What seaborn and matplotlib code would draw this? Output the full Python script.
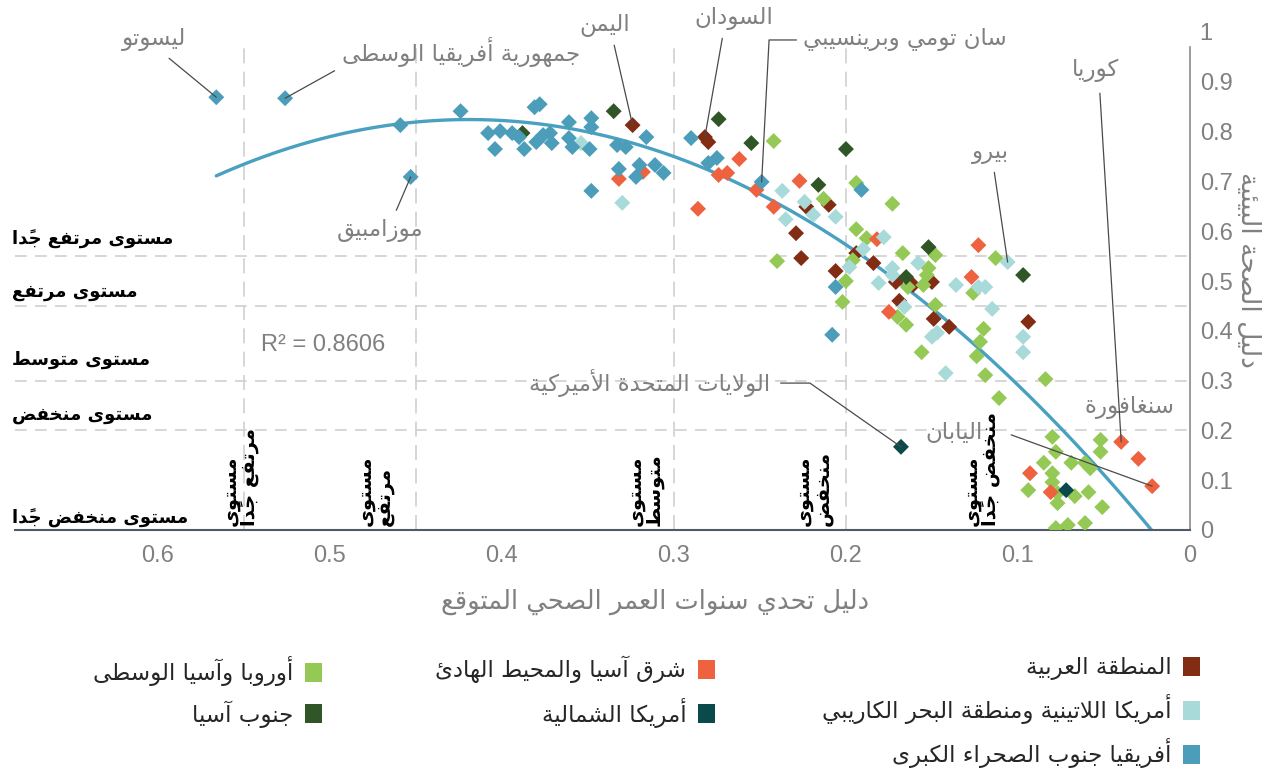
import numpy as np
import pandas as pd
import matplotlib
matplotlib.use("Agg")
import matplotlib.pyplot as plt
from matplotlib.patches import Patch
import seaborn as sns

# values
# x = healthy life expectancy challenge index, y = environmental health index
arab_x = [0.324, 0.282, 0.280, 0.223, 0.210, 0.229, 0.226, 0.194, 0.184, 0.206, 0.171, 0.161, 0.150, 0.169, 0.149, 0.140, 0.094]
arab_y = [0.813, 0.789, 0.779, 0.649, 0.653, 0.596, 0.546, 0.556, 0.536, 0.520, 0.498, 0.492, 0.498, 0.460, 0.424, 0.408, 0.418]

eca_x = [0.242, 0.213, 0.194, 0.173, 0.194, 0.188, 0.167, 0.240, 0.196, 0.200, 0.202, 0.148, 0.152, 0.153, 0.164, 0.155,
         0.113, 0.170, 0.165, 0.148, 0.156, 0.126, 0.120, 0.122, 0.124, 0.119, 0.084, 0.111, 0.080, 0.052, 0.052, 0.078,
         0.085, 0.069, 0.061, 0.058, 0.080, 0.080, 0.094, 0.077, 0.067, 0.059, 0.077, 0.051, 0.078, 0.071, 0.061]
eca_y = [0.781, 0.665, 0.697, 0.655, 0.604, 0.586, 0.556, 0.540, 0.542, 0.500, 0.458, 0.552, 0.526, 0.512, 0.488, 0.492,
         0.546, 0.428, 0.412, 0.452, 0.357, 0.476, 0.404, 0.378, 0.349, 0.311, 0.303, 0.265, 0.187, 0.181, 0.157, 0.157,
         0.135, 0.135, 0.135, 0.124, 0.114, 0.096, 0.080, 0.074, 0.068, 0.076, 0.054, 0.046, 0.004, 0.010, 0.014]

eap_x = [0.332, 0.318, 0.274, 0.269, 0.262, 0.252, 0.286, 0.242, 0.227, 0.182, 0.175, 0.123, 0.127, 0.093, 0.081, 0.040, 0.030, 0.022]
eap_y = [0.705, 0.719, 0.713, 0.717, 0.745, 0.683, 0.645, 0.649, 0.701, 0.584, 0.438, 0.572, 0.508, 0.114, 0.076, 0.177, 0.143, 0.088]

lac_x = [0.354, 0.330, 0.237, 0.224, 0.219, 0.235, 0.206, 0.178, 0.190, 0.198, 0.181, 0.173, 0.173, 0.158, 0.136, 0.123,
         0.119, 0.106, 0.166, 0.150, 0.147, 0.115, 0.097, 0.097, 0.142]
lac_y = [0.777, 0.657, 0.681, 0.659, 0.633, 0.624, 0.629, 0.588, 0.564, 0.528, 0.496, 0.526, 0.512, 0.536, 0.492, 0.488,
         0.488, 0.538, 0.448, 0.388, 0.396, 0.444, 0.388, 0.357, 0.315]

sas_x = [0.335, 0.388, 0.274, 0.255, 0.216, 0.200, 0.165, 0.152, 0.097]
sas_y = [0.841, 0.797, 0.825, 0.777, 0.693, 0.765, 0.508, 0.568, 0.512]

nam_x = [0.168, 0.072]
nam_y = [0.167, 0.080]

ssa_x = [0.566, 0.526, 0.453, 0.459, 0.424, 0.381, 0.378, 0.361, 0.348, 0.348, 0.408, 0.401, 0.394, 0.390, 0.404, 0.387,
         0.380, 0.376, 0.372, 0.371, 0.361, 0.359, 0.349, 0.333, 0.328, 0.332, 0.320, 0.322, 0.311, 0.306, 0.348, 0.316,
         0.290, 0.280, 0.275, 0.249, 0.191, 0.206, 0.208]
ssa_y = [0.869, 0.867, 0.709, 0.813, 0.841, 0.849, 0.855, 0.819, 0.827, 0.809, 0.797, 0.801, 0.797, 0.789, 0.765, 0.765,
         0.779, 0.793, 0.797, 0.777, 0.787, 0.769, 0.765, 0.773, 0.769, 0.725, 0.733, 0.709, 0.733, 0.717, 0.681, 0.789,
         0.787, 0.737, 0.747, 0.699, 0.683, 0.488, 0.392]

region_names = {
    "arab": "المنطقة العربية",
    "eca": "أوروبا وآسيا الوسطى",
    "eap": "شرق آسيا والمحيط الهادئ",
    "lac": "أمريكا اللاتينية ومنطقة البحر الكاريبي",
    "sas": "جنوب آسيا",
    "nam": "أمريكا الشمالية",
    "ssa": "أفريقيا جنوب الصحراء الكبرى",
}
region_colors = {
    "arab": "#832c14",
    "eca": "#94c955",
    "eap": "#ee623f",
    "lac": "#a7dad8",
    "sas": "#305627",
    "nam": "#0b4a4c",
    "ssa": "#4b9dba",
}

level_names = ["مستوى مرتفع جدًا", "مستوى مرتفع", "مستوى متوسط", "مستوى منخفض", "مستوى منخفض جدًا"]
level_cuts = [0.55, 0.45, 0.3, 0.2]

x_ticks = [0.6, 0.5, 0.4, 0.3, 0.2, 0.1, 0]
x_ticklabels = ["0.6", "0.5", "0.4", "0.3", "0.2", "0.1", "0"]
y_ticks = [0, 0.1, 0.2, 0.3, 0.4, 0.5, 0.6, 0.7, 0.8, 0.9, 1]
y_ticklabels = ["0", "0.1", "0.2", "0.3", "0.4", "0.5", "0.6", "0.7", "0.8", "0.9", "1"]

# ---- tiny arabic shaper (matplotlib has no bidi / joining) ----
AR_FORMS = {
    "\u0621": (0xFE80, 1), "\u0622": (0xFE81, 2), "\u0623": (0xFE83, 2), "\u0624": (0xFE85, 2),
    "\u0625": (0xFE87, 2), "\u0626": (0xFE89, 4), "\u0627": (0xFE8D, 2), "\u0628": (0xFE8F, 4),
    "\u0629": (0xFE93, 2), "\u062A": (0xFE95, 4), "\u062B": (0xFE99, 4), "\u062C": (0xFE9D, 4),
    "\u062D": (0xFEA1, 4), "\u062E": (0xFEA5, 4), "\u062F": (0xFEA9, 2), "\u0630": (0xFEAB, 2),
    "\u0631": (0xFEAD, 2), "\u0632": (0xFEAF, 2), "\u0633": (0xFEB1, 4), "\u0634": (0xFEB5, 4),
    "\u0635": (0xFEB9, 4), "\u0636": (0xFEBD, 4), "\u0637": (0xFEC1, 4), "\u0638": (0xFEC5, 4),
    "\u0639": (0xFEC9, 4), "\u063A": (0xFECD, 4), "\u0641": (0xFED1, 4), "\u0642": (0xFED5, 4),
    "\u0643": (0xFED9, 4), "\u0644": (0xFEDD, 4), "\u0645": (0xFEE1, 4), "\u0646": (0xFEE5, 4),
    "\u0647": (0xFEE9, 4), "\u0648": (0xFEED, 2), "\u0649": (0xFEEF, 2), "\u064A": (0xFEF1, 4),
}
LAM_ALEF = {"\u0622": 0xFEF5, "\u0623": 0xFEF7, "\u0625": 0xFEF9, "\u0627": 0xFEFB}


def is_mark(c):
    return "\u064B" <= c <= "\u0652" or c == "\u0670"


def ar_line(line):
    chars = list(line)
    n = len(chars)
    clusters = []
    prev = None  # previous base letter
    i = 0
    while i < n:
        c = chars[i]
        if is_mark(c):
            if clusters:
                clusters[-1] += c
            i += 1
            continue
        if c not in AR_FORMS:
            clusters.append(c)
            prev = None
            i += 1
            continue
        j = i + 1
        while j < n and is_mark(chars[j]):
            j += 1
        nxt = chars[j] if j < n else None
        join_prev = prev is not None and AR_FORMS[prev][1] == 4 and AR_FORMS[c][1] > 1
        if c == "\u0644" and nxt in LAM_ALEF:
            clusters.append(chr(LAM_ALEF[nxt] + (1 if join_prev else 0)))
            prev = nxt
            i = j + 1
            continue
        join_next = AR_FORMS[c][1] == 4 and nxt in AR_FORMS and AR_FORMS[nxt][1] > 1
        base = AR_FORMS[c][0]
        if join_prev and join_next:
            g = base + 3
        elif join_prev:
            g = base + 1
        elif join_next:
            g = base + 2
        else:
            g = base
        clusters.append(chr(g))
        prev = c
        i += 1
    return "".join(reversed(clusters))


def ar(text):
    return "\n".join(ar_line(l) for l in text.split("\n"))


# ---- build frame (row order = drawing order) ----
draw_order = ["arab", "eca", "eap", "lac", "sas", "nam", "ssa"]
xs = {"arab": arab_x, "eca": eca_x, "eap": eap_x, "lac": lac_x, "sas": sas_x, "nam": nam_x, "ssa": ssa_x}
ys = {"arab": arab_y, "eca": eca_y, "eap": eap_y, "lac": lac_y, "sas": sas_y, "nam": nam_y, "ssa": ssa_y}
df = pd.concat([pd.DataFrame({"x": xs[k], "y": ys[k], "region": k}) for k in draw_order], ignore_index=True)

sns.set_style("white")
plt.rcParams["font.family"] = ["DejaVu Sans"]
NUMFONT = ["Liberation Sans", "DejaVu Sans"]
GRAY = "#808080"

fig = plt.figure(figsize=(12.8, 7.73), dpi=100)
ax = fig.add_axes([15 / 1280, 1 - 530 / 773, (1190 - 15) / 1280, (530 - 32) / 773])

for v in level_cuts:
    ax.axhline(v, color="#d0d0d0", lw=1.2, dashes=(7, 5), zorder=1)
    ax.axvline(v, ymax=0.97, color="#d0d0d0", lw=1.2, dashes=(9, 5), zorder=1)

sns.regplot(data=df, x="x", y="y", order=2, scatter=False, ci=None, truncate=True,
            color="#4aa0c0", line_kws=dict(lw=2.4, zorder=2), ax=ax)
sns.scatterplot(data=df, x="x", y="y", hue="region", palette=region_colors, marker="D",
                s=66, linewidth=0, legend=False, ax=ax, zorder=3)

ax.set_xlim(0.683, 0)
ax.set_ylim(0, 1)
ax.set_xlabel("")
ax.set_ylabel("")
ax.set_xticks(x_ticks)
ax.set_xticklabels(x_ticklabels, family=NUMFONT)
ax.yaxis.tick_right()
ax.set_yticks(y_ticks)
ax.set_yticklabels(y_ticklabels, family=NUMFONT)
ax.tick_params(length=0, labelcolor=GRAY, labelsize=17)
ax.tick_params(axis="x", pad=11)
ax.tick_params(axis="y", pad=7)
for s in ["left", "top"]:
    ax.spines[s].set_visible(False)
ax.spines["right"].set_color("#8a8a8a")
ax.spines["right"].set_linewidth(1.2)
ax.spines["right"].set_bounds(0, 0.97)
ax.spines["bottom"].set_color("#4f5b66")
ax.spines["bottom"].set_linewidth(1.5)

# level labels along the left (y categories)
for name, fy in zip(level_names, [0.690, 0.622, 0.534, 0.463, 0.330]):
    fig.text(0.009, fy, ar(name), fontsize=13, fontweight="bold", color="black", ha="left", va="center")

# level labels along the bottom (x categories), rotated, two lines each
for name, xv in zip(level_names, [0.552, 0.474, 0.317, 0.219, 0.1215]):
    first, rest = name.split(" ", 1)
    ax.text(xv, 0.008, ar(first + "\n" + rest), rotation=90, ha="center", va="bottom",
            multialignment="left", fontsize=14, fontweight="bold", color="black", linespacing=1.0)

# country call-outs
line_kw = dict(arrowstyle="-", color="#4a4a4a", lw=0.9, shrinkB=0)
callouts = [
    ("ليسوتو", (ssa_x[0], ssa_y[0]), (0.602, 0.984), (0.6, 0), "arc3", 4),
    ("جمهورية أفريقيا الوسطى", (ssa_x[1], ssa_y[1]), (0.424, 0.960), (0, 0), "arc3", 3),
    ("موزامبيق", (ssa_x[2], ssa_y[2]), (0.471, 0.602), (0.65, 1), "arc3", 4),
    ("اليمن", (arab_x[0], arab_y[0]), (0.340, 1.014), (0.64, 0), "arc3", 4),
    ("السودان", (arab_x[1], arab_y[1]), (0.265, 1.028), (0.37, 0), "arc3", 4),
    ("سان تومي وبرينسيبي", (ssa_x[35], ssa_y[35]), (0.166, 0.984), (0, 0.5), "angle,angleA=0,angleB=87,rad=0", 2),
    ("الولايات المتحدة الأميركية", (nam_x[0], nam_y[0]), (0.314, 0.295), (1, 0.5), "angle,angleA=0,angleB=145,rad=0", 5),
    ("كوريا", (eap_x[15], eap_y[15]), (0.055, 0.924), (0.58, 0), "arc3", 6),
    ("بيرو", (lac_x[17], lac_y[17]), (0.116, 0.759), (0.57, 0), "arc3", 4),
    ("اليابان", (eap_x[17], eap_y[17]), (0.137, 0.195), (1, 0.5), "angle,angleA=0,angleB=160,rad=0", 18),
]
for name, xy, txt, rel, conn, shr in callouts:
    ax.annotate(ar(name), xy=xy, xytext=txt, ha="center", va="center", fontsize=16.5, color=GRAY,
                arrowprops=dict(relpos=rel, connectionstyle=conn, shrinkA=shr, **line_kw), zorder=4)
ax.text(0.035, 0.245, ar("سنغافورة"), ha="center", va="center", fontsize=16.5, color=GRAY)
ax.text(0.504, 0.371, "R² = 0.8606", ha="center", va="center", fontsize=17, color=GRAY, family=NUMFONT)

# axis titles
fig.text(0.512, 0.221, ar("دليل تحدي سنوات العمر الصحي المتوقع"), ha="center", va="center", fontsize=18.5, color=GRAY)
fig.text(0.975, 0.651, ar("دليل الصحة البيئية"), rotation=270, ha="center", va="center", fontsize=19, color=GRAY)

# legend in three right-to-left columns
columns = [(["arab", "lac", "ssa"], 1200), (["eap", "nam"], 715), (["eca", "sas"], 322)]
for keys, right_px in columns:
    handles = [Patch(facecolor=region_colors[k], edgecolor="none", label=ar(region_names[k])) for k in keys]
    fig.legend(handles=handles, loc="upper right", bbox_to_anchor=(right_px / 1280, 1 - 656 / 773),
               markerfirst=False, frameon=False, fontsize=16.5, handlelength=0.75, handleheight=0.9,
               handletextpad=0.5, labelspacing=0.62, borderpad=0, borderaxespad=0, labelcolor="#262626")

fig.savefig("out.png", dpi=100)
